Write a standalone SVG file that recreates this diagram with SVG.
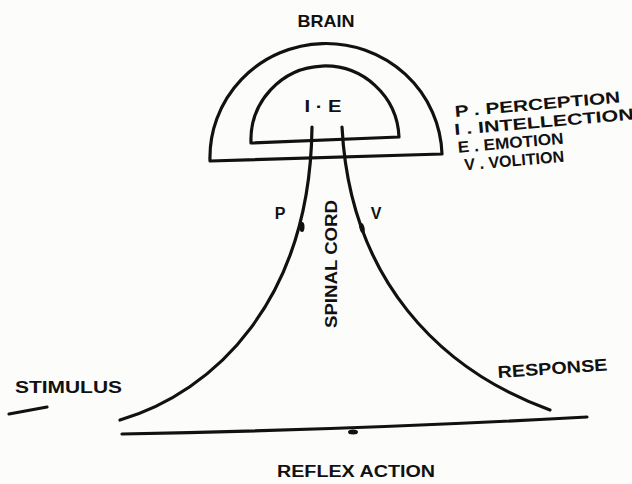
<svg xmlns="http://www.w3.org/2000/svg" width="632" height="484" viewBox="0 0 632 484">
<style>
.ln{fill:none;stroke:#111;stroke-width:3.2;stroke-linecap:round;stroke-linejoin:round}
.t{font-family:"Liberation Sans",Arial,sans-serif;font-weight:bold;fill:#111}
</style>
<rect width="632" height="484" fill="#fcfcfa"/>
<g id="brain">
<path class="ln" d="M210,161 A116,114 0 0 1 442,154 Z"/>
<path class="ln" d="M251,143 A74,74 0 0 1 399,137 Z"/>
<text class="t" x="326" y="27" font-size="17" text-anchor="middle" textLength="57" lengthAdjust="spacingAndGlyphs">BRAIN</text>
<text class="t" x="323" y="112" font-size="17" text-anchor="middle" textLength="37" lengthAdjust="spacingAndGlyphs">I · E</text>
</g>
<g id="legend" transform="rotate(-5 455 115)">
<text class="t" x="455" y="117" font-size="16" textLength="166" lengthAdjust="spacingAndGlyphs">P . PERCEPTION</text>
<text class="t" x="453" y="135" font-size="16" textLength="180" lengthAdjust="spacingAndGlyphs">I . INTELLECTION</text>
<text class="t" x="455" y="153" font-size="16" textLength="106" lengthAdjust="spacingAndGlyphs">E . EMOTION</text>
<text class="t" x="460" y="171" font-size="16" textLength="100" lengthAdjust="spacingAndGlyphs">V . VOLITION</text>
</g>
<g id="connectors">
<path class="ln" d="M312,127 C310,300 215,392 120,420"/>
<path class="ln" d="M342,127 C350,280 440,370 550,410"/>
<path class="ln" d="M122,434 Q350,430 587,417"/>
<path class="ln" d="M9,414 L47,407"/>
<ellipse cx="302" cy="227" rx="2.5" ry="5" fill="#111"/>
<ellipse cx="362" cy="228" rx="2.5" ry="5" fill="#111" transform="rotate(-15 362 228)"/>
<ellipse cx="353" cy="432" rx="5" ry="2.5" fill="#111"/>
</g>
<g id="labels">
<text class="t" x="280" y="219" font-size="16" text-anchor="middle">P</text>
<text class="t" x="376" y="219" font-size="16" text-anchor="middle">V</text>
<text class="t" x="0" y="0" font-size="16" text-anchor="middle" textLength="128" lengthAdjust="spacingAndGlyphs" transform="translate(337 264) rotate(-90)">SPINAL CORD</text>
<text class="t" x="15" y="393" font-size="16" textLength="107" lengthAdjust="spacingAndGlyphs">STIMULUS</text>
<text class="t" x="498" y="378" font-size="17" textLength="110" lengthAdjust="spacingAndGlyphs" transform="rotate(-4 498 378)">RESPONSE</text>
<text class="t" x="277" y="477" font-size="16" textLength="158" lengthAdjust="spacingAndGlyphs">REFLEX ACTION</text>
</g>
</svg>
